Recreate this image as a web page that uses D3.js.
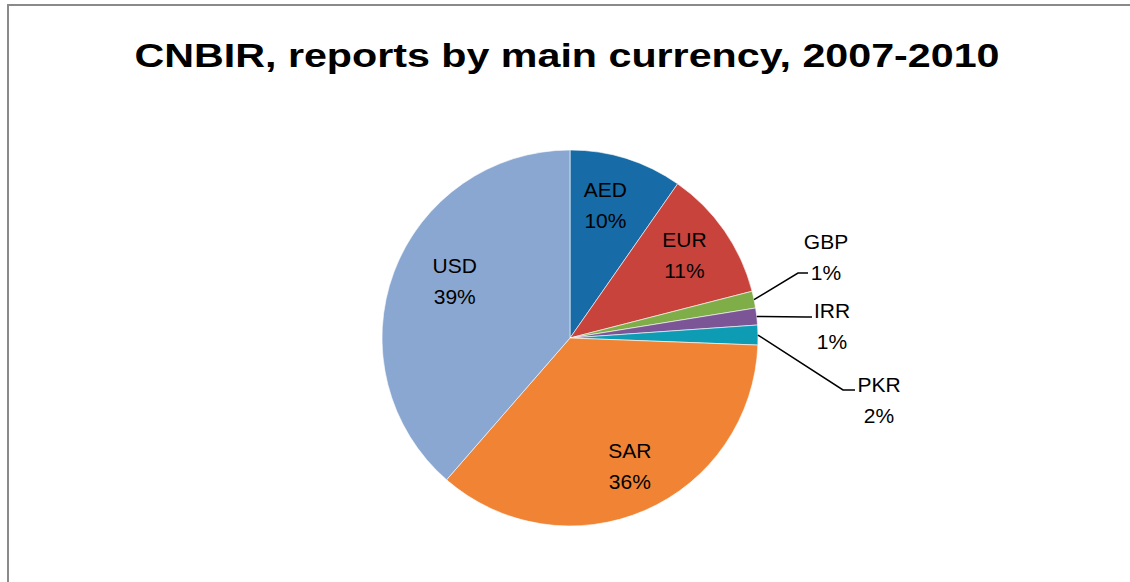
<!DOCTYPE html>
<html>
<head>
<meta charset="utf-8">
<script src="https://cdn.jsdelivr.net/npm/d3@7"></script>
<style>
  html, body { margin: 0; padding: 0; background: #fff; overflow: hidden; }
  svg { display: block; }
</style>
</head>
<body>
<svg id="chart" width="1130" height="582"></svg>
<script>
// ---- data ----
const categories = ["AED", "EUR", "GBP", "IRR", "PKR", "SAR", "USD"];
const shares = [9.7, 11.3, 1.45, 1.45, 1.7, 35.8, 38.6];
const colors = ["#176ba7", "#c9433d", "#7fad47", "#7b5595", "#0e9cb4", "#f08434", "#8aa7d2"];
const titleText = "CNBIR, reports by main currency, 2007-2010";

// ---- layout ----
const W = 1130, H = 582;
const cx = 570, cy = 338, R = 188;
const insideR = 138;
const fontFam = "'Liberation Sans', Arial, sans-serif";
const outsideSet = new Set(["GBP", "IRR", "PKR"]);
// label placement (layout only), relative to pie centre
const insideNudge = { AED: [-6, -2], EUR: [1, -5], SAR: [5, 0], USD: [14, -10] };
const outsideLabel = {
  GBP: { dx: 256, dy: -81, end: [238, -65], elbow: [228, -65] },
  IRR: { dx: 262, dy: -12, end: [242, -21], elbow: [236, -21] },
  PKR: { dx: 309, dy: 62, end: [285, 52], elbow: [273, 52] }
};

const svg = d3.select("#chart");
svg.append("rect").attr("width", W).attr("height", H).attr("fill", "#fff");
// outer frame (extends past the right/bottom edges)
svg.append("rect")
  .attr("x", 8).attr("y", 5).attr("width", W + 50).attr("height", H + 50)
  .attr("fill", "none").attr("stroke", "#8a8a8a").attr("stroke-width", 2);

// title
const title = svg.append("text")
  .attr("x", 567).attr("y", 67)
  .attr("text-anchor", "middle")
  .attr("font-family", fontFam)
  .attr("font-weight", "bold")
  .attr("font-size", 33)
  .attr("fill", "#000")
  .text(titleText);
title.attr("textLength", 865).attr("lengthAdjust", "spacingAndGlyphs");

const data = categories.map((c, i) => ({ cat: c, value: shares[i], color: colors[i] }));
const pie = d3.pie().sort(null).value(d => d.value);
const arcs = pie(data);
const arc = d3.arc().innerRadius(0).outerRadius(R);
const labelArc = d3.arc().innerRadius(insideR).outerRadius(insideR);

const g = svg.append("g").attr("transform", `translate(${cx},${cy})`);
g.selectAll("path.slice").data(arcs).join("path")
  .attr("class", "slice")
  .attr("d", arc)
  .attr("fill", d => d.data.color)
  .attr("stroke", "#ffffff")
  .attr("stroke-width", 0.6);

const pct = d => Math.round(d.data.value) + "%";

// inside labels
arcs.filter(d => !outsideSet.has(d.data.cat)).forEach(d => {
  const [x, y] = labelArc.centroid(d);
  const n = insideNudge[d.data.cat] || [0, 0];
  const t = g.append("text")
    .attr("text-anchor", "middle")
    .attr("font-family", fontFam)
    .attr("font-size", 21)
    .attr("fill", "#000");
  t.append("tspan").attr("x", x + n[0]).attr("y", y + n[1] - 7).text(d.data.cat);
  t.append("tspan").attr("x", x + n[0]).attr("y", y + n[1] + 24).text(pct(d));
});

// outside labels with leader lines
arcs.filter(d => outsideSet.has(d.data.cat)).forEach(d => {
  const L = outsideLabel[d.data.cat];
  const mid = (d.startAngle + d.endAngle) / 2;
  const p0 = [Math.sin(mid) * R, -Math.cos(mid) * R];
  g.append("path")
    .attr("d", d3.line()([p0, L.elbow, L.end]))
    .attr("fill", "none").attr("stroke", "#000").attr("stroke-width", 1.5);
  const t = g.append("text")
    .attr("text-anchor", "middle")
    .attr("font-family", fontFam)
    .attr("font-size", 21)
    .attr("fill", "#000");
  t.append("tspan").attr("x", L.dx).attr("y", L.dy - 8).text(d.data.cat);
  t.append("tspan").attr("x", L.dx).attr("y", L.dy + 23).text(pct(d));
});
</script>
</body>
</html>
